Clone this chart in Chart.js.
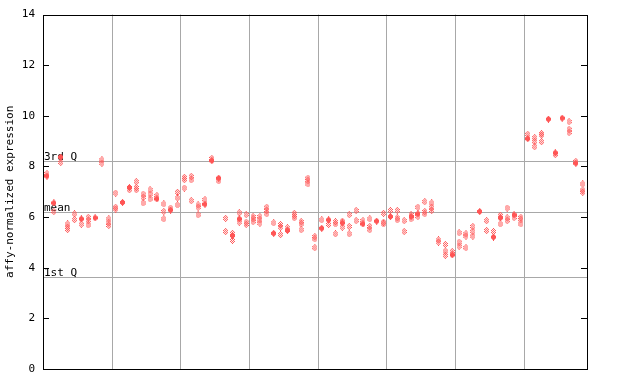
<!DOCTYPE html>
<html>
<head>
<meta charset="utf-8">
<script src="https://cdn.jsdelivr.net/npm/chart.js@4/dist/chart.umd.min.js"></script>
<style>
html,body{margin:0;padding:0;background:#fff;}
#c{display:block;}
</style>
</head>
<body>
<canvas id="c" width="640" height="384"></canvas>
<script>
// ---- data ----
const yTicks = [0, 2, 4, 6, 8, 10, 12, 14];
const yLabel = 'affy-normalized expression';
const quartileNames = ['3rd Q', 'mean', '1st Q'];
const quartileValues = [8.21, 6.21, 3.62];
const groupBoundaries = [9.5, 19.5, 29.5, 39.5, 49.5, 59.5, 69.5];

// one entry per sample column; filled diamonds
const solidValues = [
  [7.62],[6.56],[8.37],[],[],[5.93],[],[5.97],[],[],
  [],[6.58],[7.17],[],[],[],[6.72],[],[6.28],[],
  [],[],[],[6.51],[8.23],[7.54],[],[5.27],[5.93],[],
  [],[],[],[5.36],[],[5.47],[],[],[],[],
  [5.56],[5.89],[],[5.77],[],[],[5.73],[],[5.84],[],
  [6.02],[],[],[6.02],[6.13],[],[],[],[],[4.51],
  [],[],[],[6.22],[],[5.21],[5.97],[],[6.09],[],
  [9.10],[],[],[9.87],[8.54],[9.91],[],[8.13],[]
];
// checkered diamonds
const checkerValues = [
  [7.72],[6.22],[8.16],[5.73,5.60,5.51],[6.13,5.90],[5.72],[5.99,5.86,5.69],[],[8.26,8.13],[5.93,5.77,5.67],
  [6.95,6.39,6.32],[],[7.08],[7.40,7.17,7.08],[6.91,6.78,6.56],[7.08,6.91,6.72],[6.85],[6.52,6.22,5.93],[6.36],[6.98,6.76,6.48],
  [7.57,7.48,7.15],[7.61,7.47,6.65],[6.48,6.39,6.09],[6.69],[8.32],[7.43],[5.95,5.43],[5.36,5.08],[6.17,5.80],[6.10,5.80,5.71],
  [6.02,5.93,5.82],[6.02,5.89,5.76],[6.39,6.26,6.13],[5.77],[5.71,5.60,5.31],[5.58],[6.15,6.06,5.97],[5.82,5.73,5.50],[7.54,7.44,7.31],[5.23,5.14,4.79],
  [5.89],[5.71],[5.82,5.73,5.34],[5.84,5.60],[6.10,5.63,5.34],[6.26,5.86],[5.86],[5.93,5.63,5.50],[],[6.15,5.80,5.73],
  [6.26],[6.26,5.97,5.89],[5.86,5.43],[6.10,5.93],[6.39,6.02],[6.61,6.22,6.13],[6.56,6.39,6.26],[5.10,5.01],[4.92,4.66,4.49],[4.64],
  [5.38,5.01,4.85],[5.34,5.25,4.79],[5.63,5.44,5.25],[],[5.86,5.47],[5.43],[6.07,5.73],[6.36,5.97,5.86],[5.98],[5.99,5.90,5.73],
  [9.27],[9.14,8.98,8.78],[9.30,9.24,8.98],[],[8.47],[],[9.77,9.47,9.34],[8.20],[7.31,7.07,6.98]
];

// ---- styles ----
const RED = 'rgb(255,85,85)';
const FONT = '"DejaVu Sans Mono", "Liberation Mono", monospace';

function makeSprite(rows) {
  const cv = document.createElement('canvas');
  cv.width = rows[0].length; cv.height = rows.length;
  const g = cv.getContext('2d');
  g.fillStyle = RED;
  rows.forEach((r, y) => { for (let x = 0; x < r.length; x++) if (r[x] === 'x') g.fillRect(x, y, 1, 1); });
  return cv;
}
const solidSprite = makeSprite([
  '..x..',
  '.xxx.',
  'xxxxx',
  'xxxxx',
  'xxxxx',
  '.xxx.',
  '..x..'
]);
const checkerSprite = makeSprite([
  '..x..',
  '.x.x.',
  'x.x.x',
  '.x.x.',
  'x.x.x',
  '.x.x.',
  '..x..'
]);

function toPoints(cols) {
  const out = [];
  cols.forEach((vals, i) => vals.forEach(v => out.push({x: i, y: v})));
  return out;
}

const overlay = {
  id: 'overlay',
  beforeDatasetsDraw(chart) {
    const {ctx, chartArea: a, scales: {y}} = chart;
    ctx.save();
    ctx.strokeStyle = '#a8a8a8';
    ctx.lineWidth = 1;
    quartileValues.forEach((v, i) => {
      const py = Math.round(y.getPixelForValue(v)) + 0.5;
      ctx.beginPath(); ctx.moveTo(a.left, py); ctx.lineTo(a.right, py); ctx.stroke();
      ctx.fillStyle = '#000';
      ctx.font = '11px ' + FONT;
      ctx.textBaseline = 'bottom';
      ctx.textAlign = 'left';
      ctx.fillText(quartileNames[i], a.left + 1, py + 1);
    });
    ctx.restore();
  },
  afterDraw(chart) {
    const {ctx, chartArea: a, scales: {y}} = chart;
    ctx.save();
    ctx.strokeStyle = '#000';
    ctx.lineWidth = 1;
    ctx.strokeRect(Math.round(a.left) + 0.5, Math.round(a.top) + 0.5,
                   Math.round(a.right - a.left), Math.round(a.bottom - a.top));
    yTicks.forEach(v => {
      const py = Math.round(y.getPixelForValue(v)) + 0.5;
      ctx.beginPath();
      ctx.moveTo(a.left, py); ctx.lineTo(a.left + 6, py);
      ctx.moveTo(a.right - 6, py); ctx.lineTo(a.right, py);
      ctx.stroke();
    });
    ctx.restore();
  }
};

new Chart(document.getElementById('c'), {
  type: 'scatter',
  data: {
    datasets: [
      { data: toPoints(solidValues), pointStyle: solidSprite, pointRadius: 3, backgroundColor: RED, borderColor: RED },
      { data: toPoints(checkerValues), pointStyle: checkerSprite, pointRadius: 3, backgroundColor: RED, borderColor: RED }
    ]
  },
  options: {
    responsive: false,
    devicePixelRatio: 1,
    animation: false,
    events: [],
    layout: { padding: { left: 0, right: 53, top: 13, bottom: 15 } },
    plugins: { legend: { display: false }, tooltip: { enabled: false } },
    scales: {
      x: {
        type: 'linear',
        min: -0.58,
        max: 78.62,
        border: { display: false },
        ticks: { display: false },
        grid: { color: '#a8a8a8', lineWidth: 1, drawTicks: false },
        afterBuildTicks: s => { s.ticks = groupBoundaries.map(v => ({value: v})); }
      },
      y: {
        min: 0,
        max: 14,
        border: { display: false },
        grid: { display: false, drawTicks: false },
        afterBuildTicks: s => { s.ticks = yTicks.map(v => ({value: v})); },
        ticks: { color: '#000', font: { family: FONT, size: 11 }, padding: 8 },
        title: { display: true, text: yLabel, color: '#000', font: { family: FONT, size: 11 }, padding: { top: 4, bottom: 0 } },
        afterFit: s => { s.width = 43; }
      }
    }
  },
  plugins: [overlay]
});
</script>
</body>
</html>
